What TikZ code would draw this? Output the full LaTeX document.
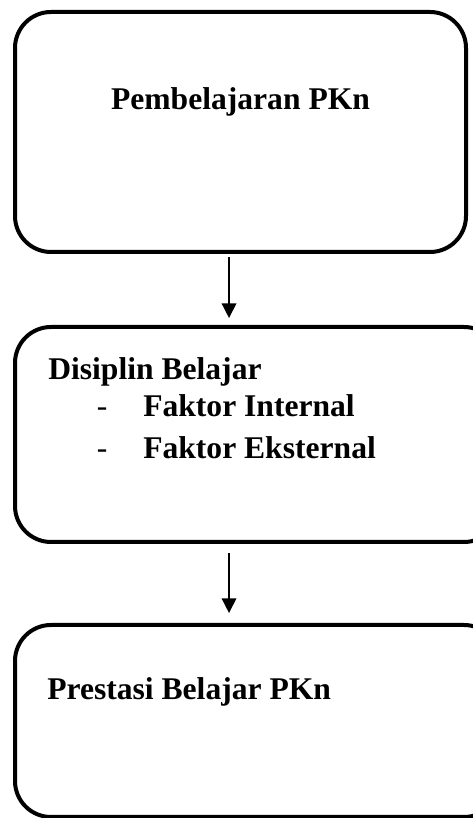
\documentclass[tikz,border=0pt]{standalone}
\usepackage{fontspec}
\setmainfont{Liberation Serif}
\usepackage{tikz}
\usetikzlibrary{arrows.meta,positioning}

\begin{document}
\begin{tikzpicture}[every node/.style={font=\fontsize{23.7pt}{29pt}\selectfont\bfseries},
  box/.style={draw, line width=3pt, rounded corners=27pt, inner sep=0pt},
  txt/.style={inner sep=0pt, anchor=base west},
  arr/.style={-{Triangle[length=11pt,width=11pt]}, line width=1.1pt}]
  \useasboundingbox (0,0) rectangle (354.75pt,613.5pt);

  \node[box, minimum width=338.25pt, minimum height=180pt, anchor=north west]
    (pkn) at (9.75pt,606pt) {};
  \node[inner sep=0pt, anchor=base] (pknlbl) at ([yshift=-75pt]pkn.north) {Pembelajaran PKn};

  \node[box, minimum width=363.75pt, minimum height=161.25pt, below right=53.25pt and 0pt of pkn.south west]
    (disiplin) {};
  \node[txt] (dislbl) at ([xshift=26.25pt,yshift=-41.25pt]disiplin.north west) {Disiplin Belajar};
  \node[txt] (intlbl) at ([yshift=-27.5pt]dislbl.base west)
    {\hspace*{36.5pt}\makebox[34.75pt][l]{\mdseries -}Faktor Internal};
  \node[txt] (ekslbl) at ([yshift=-31.25pt]intlbl.base west)
    {\hspace*{36.5pt}\makebox[34.75pt][l]{\mdseries -}Faktor Eksternal};

  \node[box, minimum width=363.75pt, minimum height=144pt, below right=59.25pt and 0pt of disiplin.south west]
    (prestasi) {};
  \node[txt] (prelbl) at ([xshift=25.5pt,yshift=-57.75pt]prestasi.north west) {Prestasi Belajar PKn};

  \draw[arr, shorten <=2.25pt, shorten >=5.25pt] ([xshift=-8.6pt]pkn.south) -- ([xshift=-8.6pt]pkn.south |- disiplin.north);
  \draw[arr, shorten <=6.75pt, shorten >=7.5pt] ([xshift=-8.6pt]pkn.south |- disiplin.south) -- ([xshift=-8.6pt]pkn.south |- prestasi.north);
\end{tikzpicture}
\end{document}
